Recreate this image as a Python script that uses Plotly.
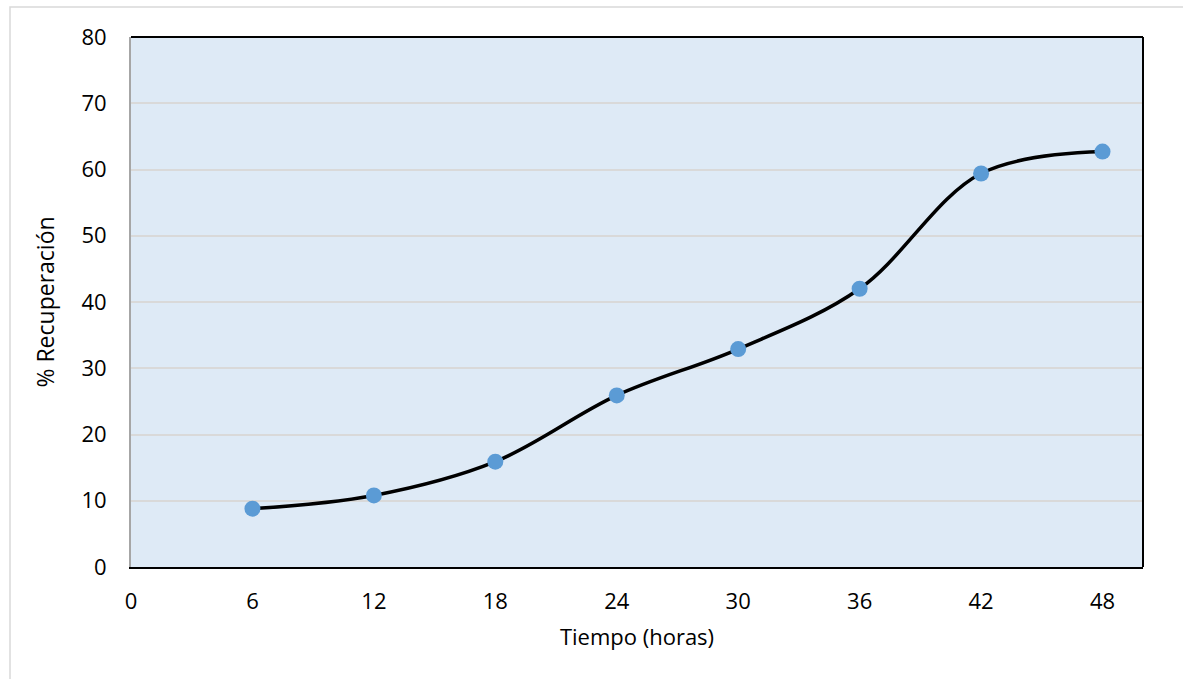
import plotly.graph_objects as go

tiempo_horas = [6, 12, 18, 24, 30, 36, 42, 48]
recuperacion = [8.8, 10.8, 15.9, 25.9, 32.9, 42.0, 59.4, 62.7]
x_ticks = [0, 6, 12, 18, 24, 30, 36, 42, 48]
y_ticks = [0, 10, 20, 30, 40, 50, 60, 70, 80]

FONT = "Open Sans"
FS = 22
W, H = 1183, 679
L, R, T, B = 131, 40, 37, 112
pw, ph = W - L - R, H - T - B

fig = go.Figure()
fig.add_trace(go.Scatter(
    x=tiempo_horas, y=recuperacion, mode="lines",
    line=dict(color="black", width=3.5, shape="spline", smoothing=1.0),
    hoverinfo="skip", showlegend=False))
fig.add_trace(go.Scatter(
    x=tiempo_horas, y=recuperacion, mode="markers",
    marker=dict(color="#5B9BD5", size=16),
    showlegend=False))

fig.update_layout(
    width=W, height=H,
    margin=dict(l=L, r=R, t=T, b=B, pad=0),
    paper_bgcolor="white", plot_bgcolor="#DEEAF6",
    font=dict(family=FONT, size=FS, color="black"),
    xaxis=dict(range=[0, 50], tickvals=x_ticks, ticktext=[str(v) for v in x_ticks],
               showgrid=False, zeroline=False, showline=True, linecolor="black", linewidth=2,
               ticks="", ticklabelstandoff=14, tickfont=dict(family=FONT, size=FS),
               title=dict(text="Tiempo (horas)", font=dict(family=FONT, size=FS), standoff=15)),
    yaxis=dict(range=[0, 80], tickvals=y_ticks, ticktext=[str(v) for v in y_ticks],
               showgrid=True, gridcolor="#D9D9D9", gridwidth=1.5, zeroline=False,
               showline=True, linecolor="#A6A6A6", linewidth=2,
               ticks="", ticklabelstandoff=18, tickfont=dict(family=FONT, size=FS),
               title=dict(text="% Recuperación", font=dict(family=FONT, size=FS + 1), standoff=20)),
    shapes=[
        dict(type="line", xref="paper", yref="paper", x0=0, x1=1, y0=1, y1=1,
             line=dict(color="black", width=2)),
        dict(type="line", xref="paper", yref="paper", x0=1, x1=1, y0=0, y1=1,
             line=dict(color="black", width=2)),
        dict(type="rect", xref="paper", yref="paper",
             x0=(10 - L) / pw, x1=(1200 - L) / pw,
             y0=(H - B - 700) / ph, y1=(H - B - 7) / ph,
             line=dict(color="#D9D9D9", width=1.5), layer="below"),
    ],
)

fig.write_html("out.html")
